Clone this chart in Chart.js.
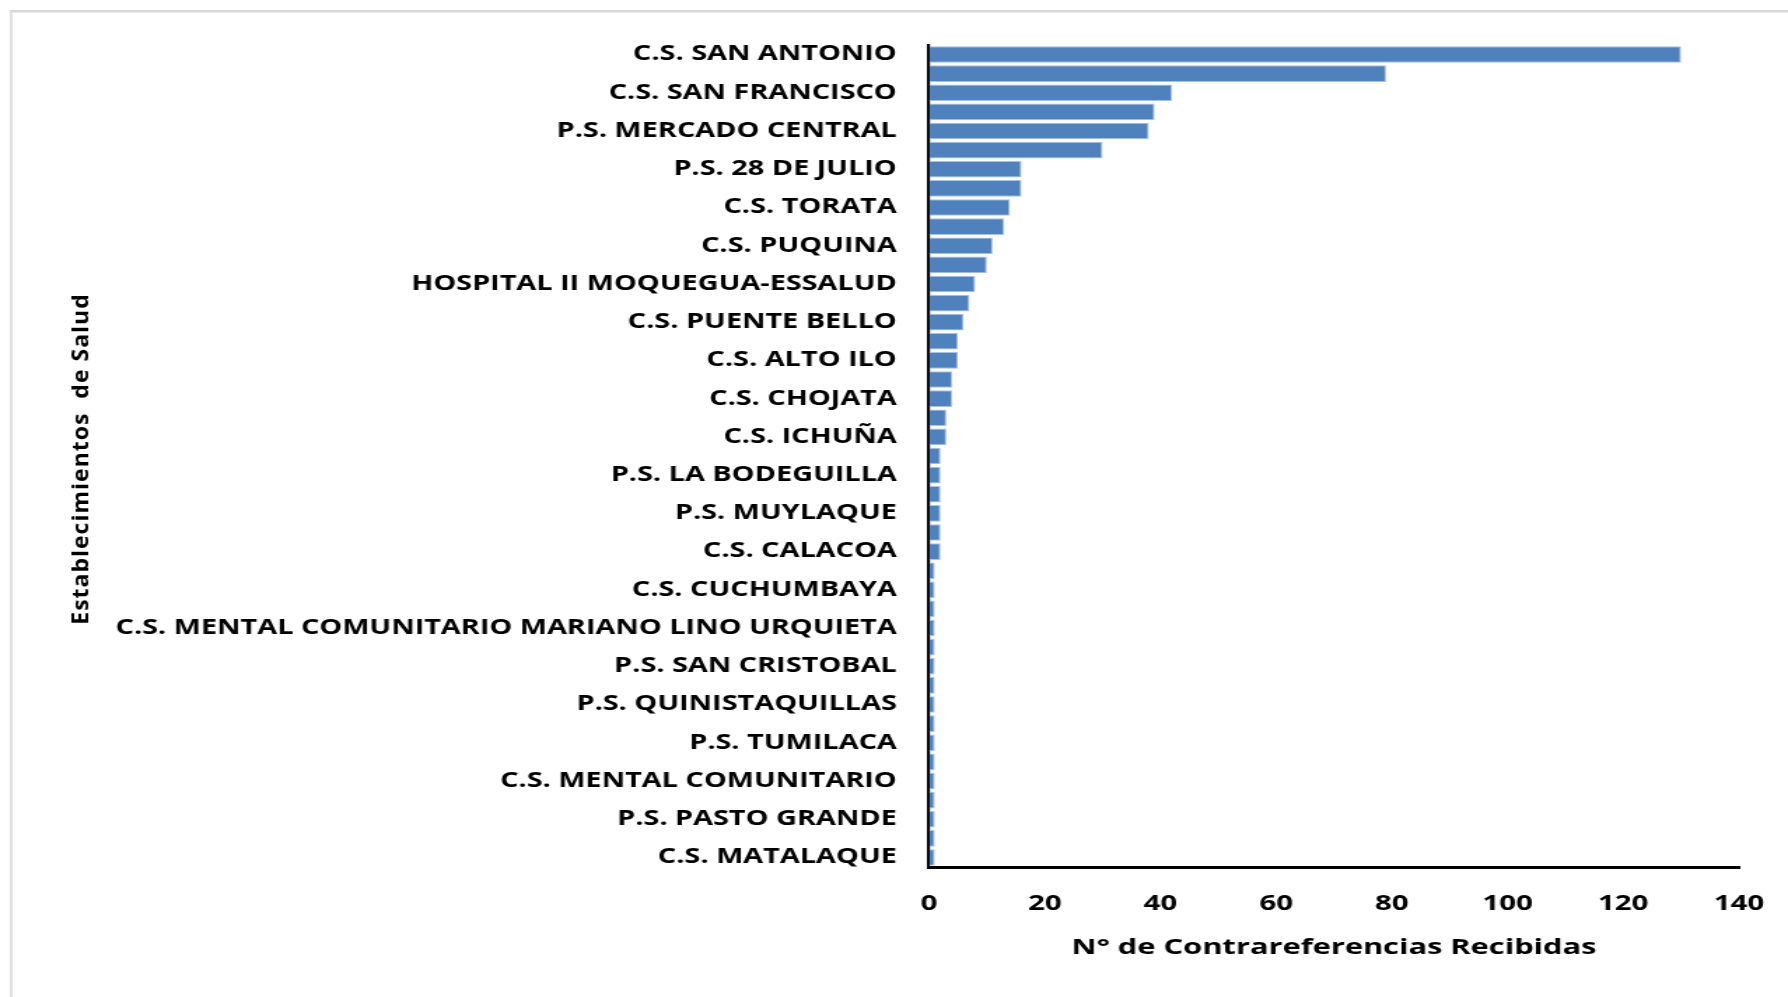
<!DOCTYPE html>
<html>
<head>
<meta charset="utf-8">
<script src="https://cdn.jsdelivr.net/npm/chart.js@4/dist/chart.umd.min.js"></script>
<style>
html,body{margin:0;padding:0;background:#fff;overflow:hidden}
#c{display:block}
</style>
</head>
<body>
<canvas id="c" width="1277" height="997" style="width:1788px;height:997px"></canvas>
<script>
// Categories (only every other label is printed in the source; unprinted names left blank)
const categories = [
  'C.S. SAN ANTONIO', '',
  'C.S. SAN FRANCISCO', '',
  'P.S. MERCADO CENTRAL', '',
  'P.S. 28 DE JULIO', '',
  'C.S. TORATA', '',
  'C.S. PUQUINA', '',
  'HOSPITAL II MOQUEGUA-ESSALUD', '',
  'C.S. PUENTE BELLO', '',
  'C.S. ALTO ILO', '',
  'C.S. CHOJATA', '',
  'C.S. ICHUÑA', '',
  'P.S. LA BODEGUILLA', '',
  'P.S. MUYLAQUE', '',
  'C.S. CALACOA', '',
  'C.S. CUCHUMBAYA', '',
  'C.S. MENTAL COMUNITARIO MARIANO LINO URQUIETA', '',
  'P.S. SAN CRISTOBAL', '',
  'P.S. QUINISTAQUILLAS', '',
  'P.S. TUMILACA', '',
  'C.S. MENTAL COMUNITARIO', '',
  'P.S. PASTO GRANDE', '',
  'C.S. MATALAQUE'
];
const values = [
  130, 79, 42, 39, 38, 30, 16, 16, 14, 13,
  11, 10, 8, 7, 6, 5, 5, 4, 4, 3,
  3, 2, 2, 2, 2, 2, 2, 1, 1, 1,
  1, 1, 1, 1, 1, 1, 1, 1, 1, 1,
  1, 1, 1
];
const xTickValues = [0, 20, 40, 60, 80, 100, 120, 140];
const xTitle = 'N° de Contrareferencias Recibidas';
const yTitle = 'Establecimientos  de Salud';

const STRETCH = 1788 / 1277;

const framePlugin = {
  id: 'frame',
  beforeDraw(chart) {
    const ctx = chart.ctx;
    ctx.save();
    ctx.fillStyle = '#ffffff';
    ctx.fillRect(0, 0, chart.width, chart.height);
    ctx.fillStyle = '#d9d9d9';
    ctx.fillRect(10 / STRETCH, 10, 2.2 / STRETCH, chart.height - 10);
    ctx.fillRect(10 / STRETCH, 10, chart.width, 2.5);
    ctx.restore();
  }
};

const yTitlePlugin = {
  id: 'yTitleUnstretched',
  afterDraw(chart) {
    const ctx = chart.ctx;
    ctx.save();
    ctx.translate(81 / STRETCH, 459);
    ctx.scale(1 / STRETCH, 1);
    ctx.rotate(-Math.PI / 2);
    ctx.font = 'bold 23px "Open Sans"';
    if ('letterSpacing' in ctx) ctx.letterSpacing = '1.0px';
    ctx.fillStyle = '#000';
    ctx.textAlign = 'center';
    ctx.textBaseline = 'middle';
    ctx.fillText(yTitle, 0, 0);
    ctx.restore();
  }
};

new Chart(document.getElementById('c'), {
  type: 'bar',
  data: {
    labels: categories,
    datasets: [{
      data: values,
      backgroundColor: '#4f81bd',
      borderColor: '#a8c2e2',
      borderWidth: 1,
      categoryPercentage: 1,
      barPercentage: 0.87
    }]
  },
  options: {
    indexAxis: 'y',
    responsive: false,
    animation: false,
    events: [],
    layout: { padding: { top: 45, right: 35, bottom: 35.8, left: 0 } },
    plugins: { legend: { display: false }, tooltip: { enabled: false } },
    scales: {
      y: {
        type: 'category',
        grid: { display: false, drawTicks: false },
        border: { display: true, color: '#000', width: 2.2 },
        ticks: {
          autoSkip: false,
          padding: 23,
          color: '#000',
          font: { family: '"Open Sans"', weight: 'bold', size: 20.6 }
        },
        afterFit(scale) {
          scale.width = 929 / STRETCH;
          scale.paddingTop = 0;
          scale.paddingBottom = 0;
        }
      },
      x: {
        type: 'linear',
        min: 0,
        max: 140,
        grid: { display: false, drawTicks: false },
        border: { display: true, color: '#000', width: 3 },
        afterBuildTicks(scale) { scale.ticks = xTickValues.map(v => ({ value: v })); },
        afterFit(scale) {
          scale.height = 94.2;
          scale.paddingLeft = 0;
          scale.paddingRight = 0;
        },
        ticks: {
          padding: 24.5,
          color: '#000',
          font: { family: '"Open Sans"', weight: 'bold', size: 21 }
        },
        title: {
          display: true,
          text: xTitle,
          color: '#000',
          font: { family: '"Open Sans"', weight: 'bold', size: 22 },
          padding: { top: 18, bottom: 0 }
        }
      }
    }
  },
  plugins: [framePlugin, yTitlePlugin]
});
</script>
</body>
</html>
